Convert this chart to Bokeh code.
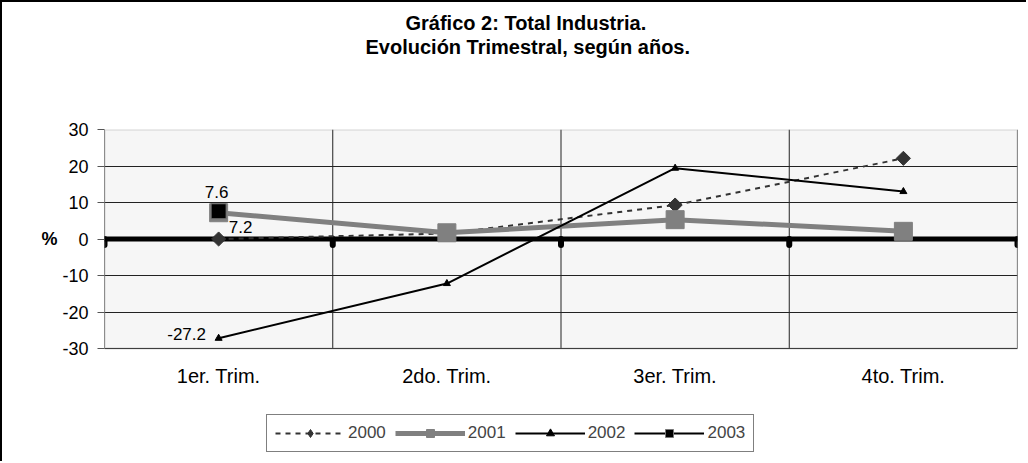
import math
from bokeh.plotting import figure
from bokeh.models import (Span, Label, Legend, LegendItem, FixedTicker, Range1d,
                          Title, LinearAxis, BoxAnnotation)
from bokeh.embed import file_html
from bokeh.resources import INLINE

# ---------------- data ----------------
categories = ["1er. Trim.", "2do. Trim.", "3er. Trim.", "4to. Trim."]
series_names = ["2000", "2001", "2002", "2003"]
s2000 = [0.0, 1.5, 9.3, 22.1]
s2001 = [7.2, 1.7, 5.3, 2.1]
s2002 = [-27.2, -12.2, 19.4, 13.0]
s2003 = [7.6, float("nan"), float("nan"), float("nan")]
y_ticks = [-30, -20, -10, 0, 10, 20, 30]
title_lines = ["Gráfico 2: Total Industria.", "Evolución Trimestral, según años."]
y_label = "%"

FONT = "Liberation Sans"

# ---------------- layout geometry (pixels) ----------------
W, H = 1026, 461           # + 2px css border left/top
FRAME_LEFT, FRAME_RIGHT_PAD, FRAME_TOP = 102, 11, 127
PLOT_H = 219               # height of the value area in pixels
frame_h = H - FRAME_TOP
y_min, y_max = min(y_ticks), max(y_ticks)
px_per_unit = PLOT_H / (y_max - y_min)
y_low = y_min - (frame_h - PLOT_H) / px_per_unit

xs = list(range(1, len(categories) + 1))
bounds = [i + 0.5 for i in range(len(categories) + 1)]

p = figure(width=W, height=H,
           x_range=Range1d(0.5, len(categories) + 0.5),
           y_range=Range1d(y_low, y_max),
           x_axis_location=None,
           output_backend="svg", toolbar_location=None,
           min_border_left=FRAME_LEFT, min_border_right=FRAME_RIGHT_PAD,
           min_border_top=FRAME_TOP, min_border_bottom=0,
           background_fill_color="white",
           border_fill_color="white",
           outline_line_color=None)
p.styles = {"border-left": "2px solid black", "border-top": "2px solid black"}

# titles: above-panels stack outward from the frame; p.title is outermost
p.add_layout(Title(text=" ", standoff=48, text_font=FONT, text_font_size="20px"),
             "above")
p.add_layout(Title(text=title_lines[1], align="left", offset=261, standoff=0,
                   text_font=FONT, text_font_size="20px", text_font_style="bold",
                   text_color="black"), "above")
p.title.text = title_lines[0]
p.title.align = "left"
p.title.offset = 301
p.title.standoff = 0
p.title.text_font = FONT
p.title.text_font_size = "20px"
p.title.text_font_style = "bold"
p.title.text_color = "black"

# plot area background
p.add_layout(BoxAnnotation(left=0.5, right=len(categories) + 0.5, bottom=y_min, top=y_max,
                           fill_color="#f6f6f6", fill_alpha=1, line_color=None,
                           level="image"))

# grids
p.xgrid.visible = False
p.ygrid.ticker = FixedTicker(ticks=y_ticks)
p.ygrid.grid_line_color = "#222222"
p.ygrid.grid_line_width = 1
p.segment(x0=bounds, y0=[y_min] * len(bounds), x1=bounds, y1=[y_max] * len(bounds),
          line_color="#222222", line_width=1, level="underlay")

# plot area border
p.add_layout(BoxAnnotation(left=0.5, right=len(categories) + 0.5, bottom=y_min, top=y_max,
                           fill_color=None, line_color="#808080", line_width=2,
                           level="underlay"))

# y axis
p.yaxis.ticker = FixedTicker(ticks=y_ticks)
p.yaxis.major_label_overrides = {t: str(t) for t in y_ticks}
p.yaxis.axis_line_color = None
p.yaxis.major_tick_line_color = "#555555"
p.yaxis.major_tick_out = 7
p.yaxis.major_tick_in = 0
p.yaxis.minor_tick_line_color = None
p.yaxis.major_label_text_font = FONT
p.yaxis.major_label_text_font_size = "18px"
p.yaxis.major_label_text_color = "black"
p.yaxis.major_label_standoff = 9

# "%" as an outer axis with a single label at 0
pct_axis = LinearAxis(ticker=FixedTicker(ticks=[0]),
                      major_label_overrides={0: y_label},
                      axis_line_color=None, major_tick_line_color=None,
                      minor_tick_line_color=None,
                      major_label_standoff=-4,
                      major_label_text_font=FONT,
                      major_label_text_font_size="18px",
                      major_label_text_font_style="bold",
                      major_label_text_color="black")
p.add_layout(pct_axis, "left")

# category labels under the value area
for x, c in zip(xs, categories):
    p.add_layout(Label(x=x, y=y_min, text=c, y_offset=-27,
                       text_align="center", text_baseline="middle",
                       text_font=FONT, text_font_size="20px", text_color="black"))

# zero axis line with round tick marks
p.add_layout(Span(location=0, dimension="width", line_color="black",
                  line_width=5, level="underlay"))
p.ray(x=bounds, y=[0] * len(bounds), length=6, angle=-math.pi / 2,
      length_units="screen", line_width=6, line_color="black",
      line_cap="round", level="underlay")

# series
l0 = p.line(xs, s2000, line_color="#333333", line_width=2, line_dash="5 5")
m0 = p.scatter(xs, s2000, marker="square", angle=math.pi / 4, size=10,
               color="#333333")
# legend key marker for 2000 (a diamond; holds no visible point)
m0_key = p.scatter(x=xs[:1], y=[float("nan")], marker="diamond", size=15,
                   color="#333333")
l1 = p.line(xs, s2001, line_color="#808080", line_width=5)
m1 = p.scatter(xs, s2001, marker="square", size=18, color="#808080")
l2 = p.line(xs, s2002, line_color="black", line_width=2)
m2 = p.scatter(xs, s2002, marker="triangle", size=7, color="black")
l3 = p.line(xs, s2003, line_color="black", line_width=2)
m3 = p.scatter(xs, s2003, marker="square", size=15, color="black",
               line_color="#777777", line_width=1)

# data labels
def add_label(val, x, dx, dy):
    p.add_layout(Label(x=x, y=val, text=f"{val:.1f}", x_offset=dx, y_offset=dy,
                       text_align="center", text_baseline="middle",
                       text_font=FONT, text_font_size="17px", text_color="black"))

add_label(s2003[0], xs[0], -2, 19)
add_label(s2001[0], xs[0], 22, -14)
add_label(s2002[0], xs[0], -32, 4)

# legend (inside the extended frame, below the category labels)
items = [LegendItem(label=series_names[0], renderers=[l0, m0_key]),
         LegendItem(label=series_names[1], renderers=[l1, m1]),
         LegendItem(label=series_names[2], renderers=[l2, m2]),
         LegendItem(label=series_names[3], renderers=[l3, m3])]
legend = Legend(items=items, orientation="horizontal", location=(162, 11),
                border_line_color="black", border_line_width=1,
                label_text_font=FONT, label_text_font_size="17px",
                glyph_width=70, glyph_height=20, spacing=9, padding=8,
                label_standoff=3, margin=0)
p.add_layout(legend)

open("out.html", "w").write(file_html(p, INLINE))
